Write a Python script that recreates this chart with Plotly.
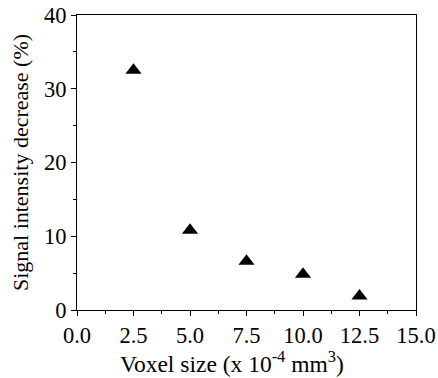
import plotly.graph_objects as go

voxel_size = [2.5, 5.0, 7.5, 10.0, 12.5]
signal_decrease = [32.5, 10.8, 6.6, 4.85, 1.9]
x_tick_vals = [0, 2.5, 5, 7.5, 10, 12.5, 15]
x_tick_text = ["0.0", "2.5", "5.0", "7.5", "10.0", "12.5", "15.0"]
y_tick_vals = [0, 10, 20, 30, 40]
x_title = "Voxel size (x 10<sup>-4</sup> mm<sup>3</sup>)"
y_title = "Signal intensity decrease (%)"

font = "Liberation Serif, Times New Roman, serif"

fig = go.Figure()
fig.add_trace(go.Scatter(
    x=voxel_size, y=signal_decrease, mode="markers",
    marker=dict(symbol="triangle-up", size=14, color="black"),
    showlegend=False,
))

fig.update_layout(
    width=438, height=378,
    margin=dict(l=77, r=22, t=15, b=68),
    paper_bgcolor="white", plot_bgcolor="white",
    font=dict(family=font, size=22.5, color="black"),
)
fig.add_annotation(
    text=x_title, xref="paper", yref="paper", x=0.457, y=-0.175,
    xanchor="center", yanchor="middle", showarrow=False, font=dict(size=23.5),
)
fig.update_xaxes(
    range=[0, 15], tickvals=x_tick_vals, ticktext=x_tick_text,
    ticks="outside", ticklen=5, tickwidth=1, tickcolor="black",
    minor=dict(dtick=1.25, tick0=0, ticks="outside", ticklen=3, tickcolor="black"),
    showline=True, linecolor="black", linewidth=1.2, mirror=True,
    showgrid=False, zeroline=False, automargin=False, ticklabeloverflow="allow",
)
fig.update_yaxes(
    range=[0, 40], tickvals=y_tick_vals,
    ticks="outside", ticklen=5, tickwidth=1, tickcolor="black",
    minor=dict(dtick=5, tick0=0, ticks="outside", ticklen=3, tickcolor="black"),
    showline=True, linecolor="black", linewidth=1.2, mirror=True,
    showgrid=False, zeroline=False, automargin=False, ticklabeloverflow="allow",
    title=dict(text=y_title, font=dict(size=22), standoff=9),
)

fig.write_html("out.html", config={"displayModeBar": False},
               post_script="document.body.style.margin='0';")
